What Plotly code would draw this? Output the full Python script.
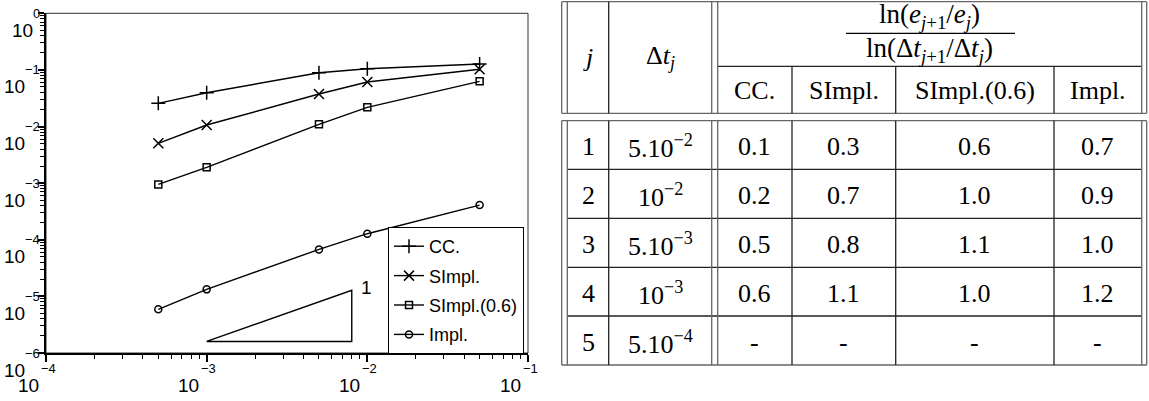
import plotly.graph_objects as go

# time steps and errors per scheme
dt = [5e-4, 1e-3, 5e-3, 1e-2, 5e-2]
err_cc = [0.0257, 0.0395, 0.0893, 0.105, 0.127]
err_simpl = [0.00505, 0.01064, 0.0375, 0.0611, 0.1025]
err_simpl06 = [9.5e-4, 1.9e-3, 0.01094, 0.0218, 0.0629]
err_impl = [5.9e-6, 1.33e-5, 6.76e-5, 1.28e-4, 4.1e-4]

# slope-1 reference triangle
tri_x = [1e-3, 8e-3, 8e-3, 1e-3]
tri_y = [1.6e-6, 1.6e-6, 1.28e-5, 1.6e-6]

x_decades = [-4, -3, -2, -1]
y_decades = [0, -1, -2, -3, -4, -5, -6]

# table content
tab_j = [1, 2, 3, 4, 5]
tab_dt = ["5.10<sup>−2</sup>", "10<sup>−2</sup>", "5.10<sup>−3</sup>",
          "10<sup>−3</sup>", "5.10<sup>−4</sup>"]
rate_cols = ["CC.", "SImpl.", "SImpl.(0.6)", "Impl."]
rate_cc = [0.1, 0.2, 0.5, 0.6, None]
rate_simpl = [0.3, 0.7, 0.8, 1.1, None]
rate_simpl06 = [0.6, 1.0, 1.1, 1.0, None]
rate_impl = [0.7, 0.9, 1.0, 1.2, None]

W, H = 1149, 401
SANS = "Liberation Sans, Arial, sans-serif"
SERIF = "Liberation Serif, Times New Roman, serif"


def px(x):
    return x / W


def py(y):
    return 1 - y / H


fig = go.Figure()

series = [
    ("CC.", err_cc, "cross-thin", 10),
    ("SImpl.", err_simpl, "x-thin", 10),
    ("SImpl.(0.6)", err_simpl06, "square-open", 7),
    ("Impl.", err_impl, "circle-open", 7),
]
for i, (name, err, sym, size) in enumerate(series):
    fig.add_trace(go.Scatter(
        x=dt, y=err, name=name, mode="lines+markers", legendgroup=str(i),
        line=dict(color="black", width=1.4),
        marker=dict(symbol=sym, size=size, color="black",
                    line=dict(color="black", width=1.5)),
    ))

fig.add_trace(go.Scatter(x=tri_x, y=tri_y, mode="lines", showlegend=False,
                         line=dict(color="black", width=1.4), hoverinfo="skip"))

minor_x = [m * 10 ** d for d in x_decades[:-1] for m in range(2, 10)]
minor_y = [m * 10 ** d for d in y_decades[1:] for m in range(2, 10)]

fig.update_xaxes(
    type="log", range=[-4, -1], domain=[px(46), px(528)],
    tickvals=[10 ** d for d in x_decades], showticklabels=False,
    ticks="outside", ticklen=7, tickwidth=1.5, tickcolor="black",
    minor=dict(tickvals=minor_x, ticks="outside", ticklen=4, tickwidth=1.2, tickcolor="black"),
    showline=True, linecolor="black", linewidth=2, showgrid=False, zeroline=False,
)
fig.update_yaxes(
    type="log", range=[-6, 0], domain=[py(353), py(13.3)],
    tickvals=[10 ** d for d in y_decades], showticklabels=False,
    ticks="outside", ticklen=6, tickwidth=1.5, tickcolor="black",
    minor=dict(tickvals=minor_y, ticks="outside", ticklen=4, tickwidth=1.2, tickcolor="black"),
    showline=True, linecolor="black", linewidth=2, showgrid=False, zeroline=False,
)

shapes = []
ann = []

# thin frame for top/right sides of the plot
shapes.append(dict(type="rect", xref="paper", yref="paper", x0=px(46), x1=px(528),
                   y0=py(353), y1=py(13.3), line=dict(color="#333", width=1), layer="below"))

# axis tick labels, old "10 with raised exponent" style
for d in y_decades:
    e = str(d).replace("-", "−")
    ann.append(dict(xref="paper", yref="y", x=px(42), y=d, text=e, showarrow=False,
                    xanchor="right", yanchor="middle", font=dict(family=SANS, size=13, color="black")))
    ann.append(dict(xref="paper", yref="y", x=px(42), y=d, yshift=-17, showarrow=False,
                    text="10<span style='font-size:13px;color:rgba(0,0,0,0)'>" + e + "</span>",
                    xanchor="right", yanchor="middle", font=dict(family=SANS, size=19, color="black")))
for d in x_decades:
    e = str(d).replace("-", "−")
    ann.append(dict(xref="x", yref="paper", x=d, y=py(368), xshift=2, text=e, showarrow=False,
                    xanchor="center", yanchor="middle", font=dict(family=SANS, size=13, color="black")))
    ann.append(dict(xref="x", yref="paper", x=d, y=py(385), xshift=-5.5, text="10",
                    showarrow=False, xanchor="right", yanchor="middle",
                    font=dict(family=SANS, size=19, color="black")))

# slope label
ann.append(dict(xref="x", yref="y", x=-2.0075, y=-4.836, text="1", showarrow=False,
                font=dict(family=SANS, size=19, color="black")))

# ---- table ----
L1, L2 = 561.7, 567.3          # left double line
C1 = 608.7                     # j | dt
D1, D2 = 711.7, 717.7          # double line before rates
C3, C4, C5 = 792, 895.7, 1054  # rate columns
R1, R2 = 1141.7, 1146.7        # right double line
TOP, MID, HB = 1.7, 66.3, 113.3
BT = 120.7
rows = [BT, 169.3, 218.3, 267.3, 316, 365]

DARK = "#222"
GRAY = "#666"


def hline(y, xa, xb, c=DARK, w=1.3):
    shapes.append(dict(type="line", xref="paper", yref="paper", x0=px(xa), x1=px(xb),
                       y0=py(y), y1=py(y), line=dict(color=c, width=w)))


def vline(x, ya, yb, c=DARK, w=1.3):
    shapes.append(dict(type="line", xref="paper", yref="paper", x0=px(x), x1=px(x),
                       y0=py(ya), y1=py(yb), line=dict(color=c, width=w)))


hline(TOP, L1, R2, GRAY)
hline(HB, L1, R2, GRAY)
hline(MID, D2, R1)
hline(BT, L1, R2, GRAY)
for y in rows[1:-1]:
    hline(y, L2, R1)
hline(rows[-1], L1, R2, GRAY)

for ya, yb in [(TOP, HB), (BT, rows[-1])]:
    for x in (L1, L2, D1, D2, R1, R2):
        vline(x, ya, yb, GRAY)
    vline(C1, ya, yb)
for x in (C3, C4, C5):
    vline(x, MID, HB)
    vline(x, BT, rows[-1])

# fraction bar
hline(33.3, 846, 1015, "black", 1.2)


def cell(x, y, text, size=26):
    ann.append(dict(xref="paper", yref="paper", x=px(x), y=py(y), text=text, showarrow=False,
                    xanchor="center", yanchor="middle", font=dict(family=SERIF, size=size, color="black")))


cell((L2 + C1) / 2, 57, "<i>j</i>")
cell((C1 + D1) / 2, 57, "Δ<i>t</i><sub><i>j</i></sub>")
cell((D2 + R1) / 2, 16, "ln(<i>e</i><sub><i>j</i>+1</sub>/<i>e</i><sub><i>j</i></sub>)", 27)
cell((D2 + R1) / 2, 50, "ln(Δ<i>t</i><sub><i>j</i>+1</sub>/Δ<i>t</i><sub><i>j</i></sub>)", 27)

col_x = [(D2 + C3) / 2, (C3 + C4) / 2, (C4 + C5) / 2, (C5 + R1) / 2]
for cx, name in zip(col_x, rate_cols):
    cell(cx, 91, name)

rate_table = [rate_cc, rate_simpl, rate_simpl06, rate_impl]
for i in range(len(tab_j)):
    cy = (rows[i] + rows[i + 1]) / 2 + 1.5
    cell((L2 + C1) / 2, cy, str(tab_j[i]))
    cell((C1 + D1) / 2, cy, tab_dt[i])
    for cx, col in zip(col_x, rate_table):
        v = col[i]
        cell(cx, cy, "-" if v is None else f"{v:.1f}")

fig.update_layout(
    width=W, height=H, margin=dict(l=0, r=0, t=0, b=0),
    paper_bgcolor="white", plot_bgcolor="white",
    shapes=shapes, annotations=ann,
    legend=dict(x=px(524), y=py(227), xanchor="right", yanchor="top",
                bgcolor="white", bordercolor="black", borderwidth=1,
                font=dict(family=SANS, size=18, color="black"),
                tracegroupgap=3, itemwidth=30),
)

# page body has a default 8px margin; drop it so the figure sits at the window origin
fig.write_html("out.html", config={"displayModeBar": False},
               post_script="document.body.style.margin='0';")
